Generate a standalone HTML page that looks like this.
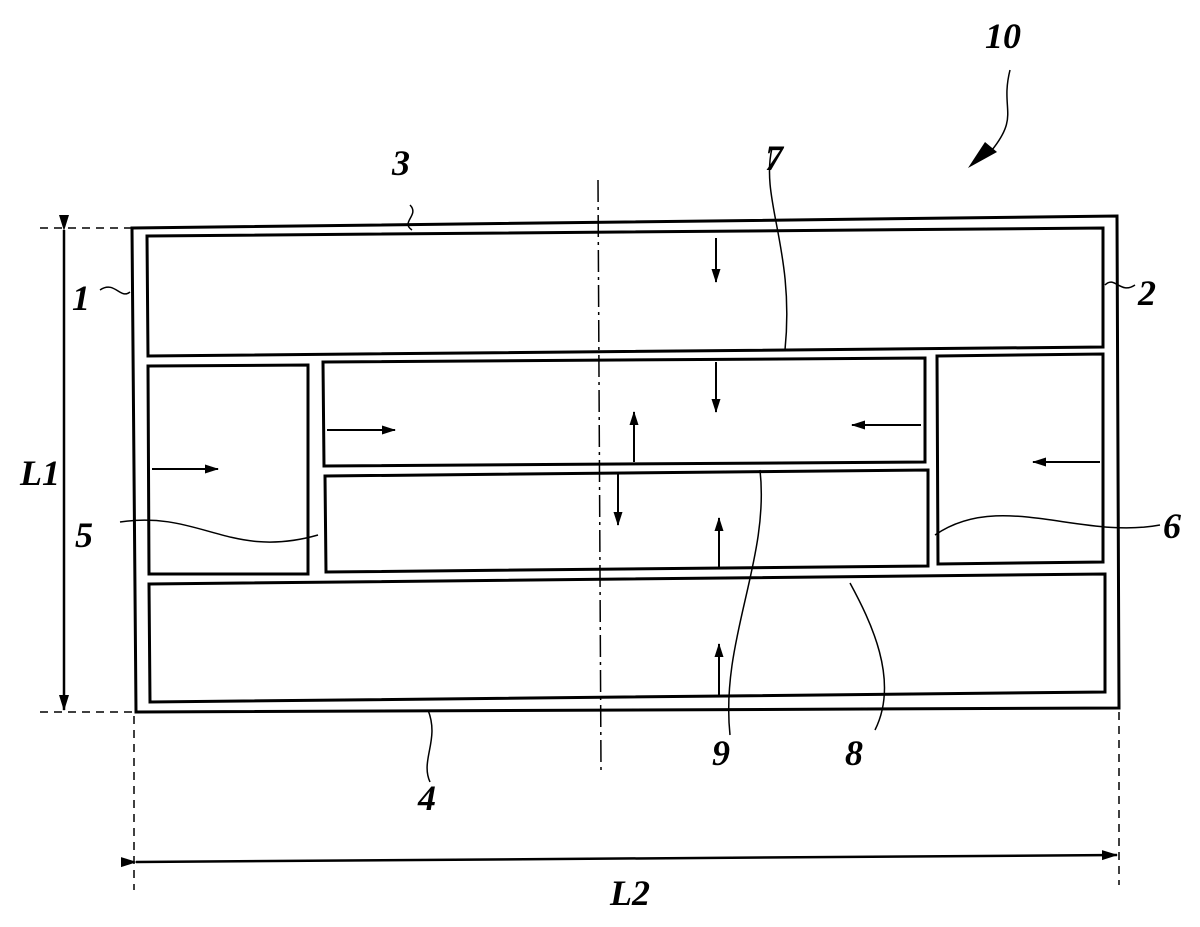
<!DOCTYPE html>
<html><head><style>html,body{margin:0;padding:0;background:#fff}svg{display:block}</style></head><body>
<svg width="1200" height="927" viewBox="0 0 1200 927" xmlns="http://www.w3.org/2000/svg">
<defs><marker id="a" markerWidth="14" markerHeight="12" refX="13" refY="6" orient="auto" markerUnits="userSpaceOnUse"><path d="M0,1.5 L14,6 L0,10.5 Z" fill="#000"/></marker>
<marker id="b" markerWidth="16" markerHeight="14" refX="15" refY="7" orient="auto" markerUnits="userSpaceOnUse"><path d="M0,2 L16,7 L0,12 Z" fill="#000"/></marker></defs>
<g fill="none" stroke="#000" stroke-width="3">
<polygon points="132,228 1117,216 1119,708 136,712"/>
<polygon points="147,236 1103,228 1103,347 148,356"/>
<polygon points="148,366 308,365 308,574 149,574"/>
<polygon points="323,362 925,358 925,462 324,466"/>
<polygon points="325,476 928,470 928,566 326,572"/>
<polygon points="937,356 1103,354 1103,562 938,564"/>
<polygon points="149,584 1105,574 1105,692 150,702"/>
</g>
<g stroke="#000" stroke-width="1.5" fill="none">
<line x1="598" y1="180" x2="601" y2="770" stroke-dasharray="22,5,3,5"/>
<line x1="40" y1="228" x2="132" y2="228" stroke-dasharray="8,6"/>
<line x1="40" y1="712" x2="136" y2="712" stroke-dasharray="8,6"/>
<line x1="134" y1="716" x2="134" y2="890" stroke-dasharray="8,6"/>
<line x1="1119" y1="712" x2="1119" y2="885" stroke-dasharray="8,6"/>
<path d="M772,148 C760,200 795,250 785,350"/>
<path d="M1105,285 C1115,275 1120,295 1135,285"/>
<path d="M100,290 C115,280 120,300 130,292"/>
<path d="M120,522 C200,510 230,560 318,535"/>
<path d="M935,535 C1000,490 1080,540 1160,525"/>
<path d="M760,470 C770,560 720,640 730,735"/>
<path d="M850,583 C870,620 900,680 875,730"/>
<path d="M428,710 C440,740 420,760 430,782"/>
<path d="M410,205 C420,215 400,222 412,230"/>
<path d="M1010,70 C1000,110 1020,115 992,150"/>
</g>
<polygon points="968,168 985,142 997,152" fill="#000"/>
<g stroke="#000" stroke-width="2.5">
<line x1="64" y1="230" x2="64" y2="710" marker-start="url(#b)" marker-end="url(#b)"/>
<line x1="136" y1="862" x2="1117" y2="855" marker-start="url(#b)" marker-end="url(#b)"/>
</g>
<g stroke="#000" stroke-width="2">
<line x1="716" y1="238" x2="716" y2="282" marker-end="url(#a)"/>
<line x1="716" y1="362" x2="716" y2="412" marker-end="url(#a)"/>
<line x1="634" y1="462" x2="634" y2="412" marker-end="url(#a)"/>
<line x1="618" y1="474" x2="618" y2="525" marker-end="url(#a)"/>
<line x1="719" y1="568" x2="719" y2="518" marker-end="url(#a)"/>
<line x1="719" y1="696" x2="719" y2="644" marker-end="url(#a)"/>
<line x1="327" y1="430" x2="395" y2="430" marker-end="url(#a)"/>
<line x1="152" y1="469" x2="218" y2="469" marker-end="url(#a)"/>
<line x1="921" y1="425" x2="852" y2="425" marker-end="url(#a)"/>
<line x1="1100" y1="462" x2="1033" y2="462" marker-end="url(#a)"/>
</g>
<g font-family="Liberation Serif, serif" font-style="italic" font-weight="bold" font-size="36" fill="#000">
<text x="985" y="48">10</text>
<text x="392" y="175">3</text>
<text x="765" y="170">7</text>
<text x="72" y="310">1</text>
<text x="1138" y="305">2</text>
<text x="20" y="485">L1</text>
<text x="75" y="547">5</text>
<text x="1163" y="538">6</text>
<text x="712" y="765">9</text>
<text x="845" y="765">8</text>
<text x="418" y="810">4</text>
<text x="610" y="905">L2</text>
</g>
</svg>
</body></html>
